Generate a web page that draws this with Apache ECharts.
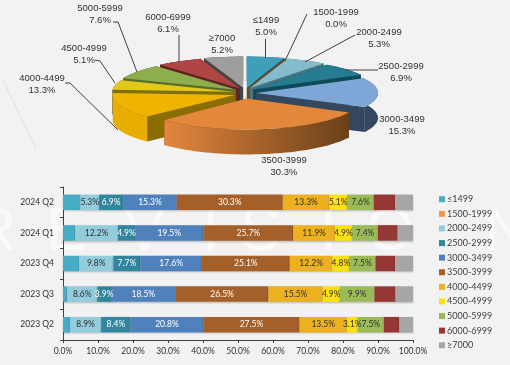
<!DOCTYPE html>
<html><head><meta charset="utf-8">
<style>html,body{margin:0;padding:0;background:#f2f2f2}#c{width:510px;height:365px}</style>
<script src="https://cdn.jsdelivr.net/npm/echarts@6/dist/echarts.min.js"></script>
</head><body><div id="c"></div>
<script>
const priceBands = ['≤1499','1500-1999','2000-2499','2500-2999','3000-3499','3500-3999','4000-4499','4500-4999','5000-5999','6000-6999','≥7000'];
const quarters = ['2023 Q2','2023 Q3','2023 Q4','2024 Q1','2024 Q2'];
const pieShares = [5.0,0.0,5.3,6.9,15.3,30.3,13.3,5.1,7.6,6.1,5.2];
const q2023Q2 = [2.0,0,8.9,8.4,20.8,27.5,13.5,3.1,7.5,4.4,3.9];
const q2023Q3 = [1.2,0,8.6,3.9,18.5,26.5,15.5,4.9,9.9,6.0,5.0];
const q2023Q4 = [4.6,0,9.8,7.7,17.6,25.1,12.2,4.8,7.5,5.6,5.1];
const q2024Q1 = [3.5,0,12.2,4.9,19.5,25.7,11.9,4.9,7.4,5.6,4.4];
const q2024Q2 = [5.0,0,5.3,6.9,15.3,30.3,13.3,5.1,7.6,6.1,5.2];
const barRows = [q2023Q2,q2023Q3,q2023Q4,q2024Q1,q2024Q2];
const barColors = ['#47acc5','#f79646','#93cddd','#31859c','#4f81bd','#a5602a','#edb120','#ffe010','#9bbb59','#953735','#a6a6a6'];
const pieColors = ['#3f9fbb','#c87a2f','#85bccd','#267c90','#7ea6d6','#e2873c','#efb400','#e2c81a','#8eae4e','#b04644','#9e9e9e'];
const wallColors = ['#1f5a6b','#7a4a1a','#4c7482','#0f4a57','#33475e','#6b4018','#8a6d00','#7d6e10','#566b2c','#5e2423','#444444'];
const unlabeled = [0,1,9,10];
const darkText = [2,6,7,8];
const watermarkLetters = ['R','E','V','I','S','I','O','N'];
const watermarkX = [-28,46,124,202,240,320,366,484];

// layout of the pie labels: text centre and leader line
const pieLabelLayout = [
  {x:266,y:26,line:[[265.5,39],[265.5,58]]},
  {x:336,y:18,line:[[307,14],[285,61]]},
  {x:379,y:38,line:[[355,35],[305,62]]},
  {x:401,y:72,line:[[378,70],[345,70]]},
  {x:402,y:125},
  {x:284,y:166},
  {x:42,y:84,line:[[65,83],[70,83],[118,130]]},
  {x:84,y:54,line:[[95,60],[100,61],[115,83]]},
  {x:100,y:14,line:[[113,22],[118,22],[137,72]]},
  {x:168,y:23,line:[[179,35],[179,62]]},
  {x:222,y:44}
];
const PIE = {cx:245,cy:93,rx:122,ry:31,depth:25,explode:11,explodeY:0.5};
const pieTotal = pieShares.reduce((a,b)=>a+b,0);
const pieStarts = pieShares.map((v,i)=>pieShares.slice(0,i).reduce((a,b)=>a+b,0));

function renderSlice(params, api){
  const i = api.value(1), share = api.value(0);
  const a0 = pieStarts[i]/pieTotal*Math.PI*2;
  const a1 = (pieStarts[i]+share)/pieTotal*Math.PI*2;
  const mid = (a0+a1)/2;
  const ox = PIE.cx+Math.sin(mid)*PIE.explode;
  const oy = PIE.cy-Math.cos(mid)*PIE.explode*PIE.explodeY;
  const rx = i===5 ? PIE.rx*0.94 : PIE.rx;
  const pt = a=>[ox+Math.sin(a)*rx, oy-Math.cos(a)*PIE.ry];
  const steps = Math.max(2,Math.ceil((a1-a0)/0.04));
  const arc=[]; for(let k=0;k<=steps;k++) arc.push(pt(a0+(a1-a0)*k/steps));
  const z2 = Math.round(100-Math.cos(mid)*50);
  const d = PIE.depth, kids=[];
  const wall=(p,q,fill)=>kids.push({type:'polygon',z2,shape:{points:[p,q,[q[0],q[1]+d],[p[0],p[1]+d]]},style:{fill}});
  wall([ox,oy],arc[0],wallColors[i]);
  wall([ox,oy],arc[arc.length-1],wallColors[i]);
  const lower=arc.map(p=>[p[0],p[1]+d]).reverse();
  const sideFill = i===5
    ? {type:'linear',x:0,y:0,x2:1,y2:0,colorStops:[{offset:0,color:pieColors[i]},{offset:1,color:wallColors[i]}]}
    : (i===6 ? '#e8ad00' : wallColors[i]);
  kids.push({type:'polygon',z2,shape:{points:arc.concat(lower)},style:{fill:sideFill}});
  kids.push({type:'polygon',z2,shape:{points:[[ox,oy]].concat(arc)},style:{fill:pieColors[i]}});
  const lab = pieLabelLayout[i];
  if(lab.line) kids.push({type:'polyline',z2:900,shape:{points:lab.line},style:{fill:null,stroke:'#404040',lineWidth:1}});
  kids.push({type:'text',z2:1000,style:{x:lab.x,y:lab.y,text:priceBands[i]+'\n'+share.toFixed(1)+'%',align:'center',verticalAlign:'middle',fill:'#303030',fontFamily:'Liberation Sans',fontSize:9.5,lineHeight:12}});
  return {type:'group',children:kids};
}

const barSeries = priceBands.map((name,s)=>({
  name,type:'bar',stack:'share',barWidth:15.5,
  data:barRows.map(r=>r[s]),
  itemStyle:{color:barColors[s],shadowColor:'rgba(0,0,0,0.25)',shadowBlur:2,shadowOffsetY:1},
  label:{show:!unlabeled.includes(s),position:'inside',
    formatter:p=>p.value.toFixed(1)+'%',
    color:darkText.includes(s)?'#303030':'#ffffff',fontFamily:'Lato',fontSize:8.5}
}));

const chart = echarts.init(document.getElementById('c'),null,{renderer:'canvas'});
chart.setOption({
  animation:false,
  backgroundColor:'#f2f2f2',
  graphic:watermarkLetters.map((t,i)=>({type:'text',z:0,left:watermarkX[i],top:202,
      style:{text:t,fill:'rgba(255,255,255,0.6)',fontFamily:'Liberation Sans',fontSize:62}}))
    .concat([{type:'line',z:0,shape:{x1:3,y1:80,x2:36,y2:148},style:{stroke:'#e0e0e0',lineWidth:1}}]),
  legend:{orient:'vertical',left:434,top:189,itemWidth:6,itemHeight:6,itemGap:4.1,icon:'rect',
    data:priceBands,selectedMode:false,
    textStyle:{fontFamily:'Lato',fontSize:9,color:'#404040',padding:[0,0,0,-3],lineHeight:10.5}},
  grid:{left:63,top:187,width:350,height:153},
  xAxis:{type:'value',min:0,max:100,interval:10,
    axisLine:{show:true,lineStyle:{color:'#404040'}},
    axisTick:{show:true,length:3,lineStyle:{color:'#404040'}},
    splitLine:{show:false},
    axisLabel:{formatter:v=>v.toFixed(1)+'%',color:'#303030',fontFamily:'Lato',fontSize:8.5,margin:7,hideOverlap:false}},
  yAxis:{type:'category',data:quarters,
    axisLine:{show:true,lineStyle:{color:'#404040'}},
    axisTick:{show:true,length:3,lineStyle:{color:'#404040'}},
    axisLabel:{color:'#303030',fontFamily:'Lato',fontSize:8.5,margin:9}},
  series:barSeries.concat([{
    type:'custom',coordinateSystem:'none',silent:true,
    data:pieShares.map((v,i)=>[v,i]),renderItem:renderSlice,
    encode:{value:0}
  }])
});
</script></body></html>
